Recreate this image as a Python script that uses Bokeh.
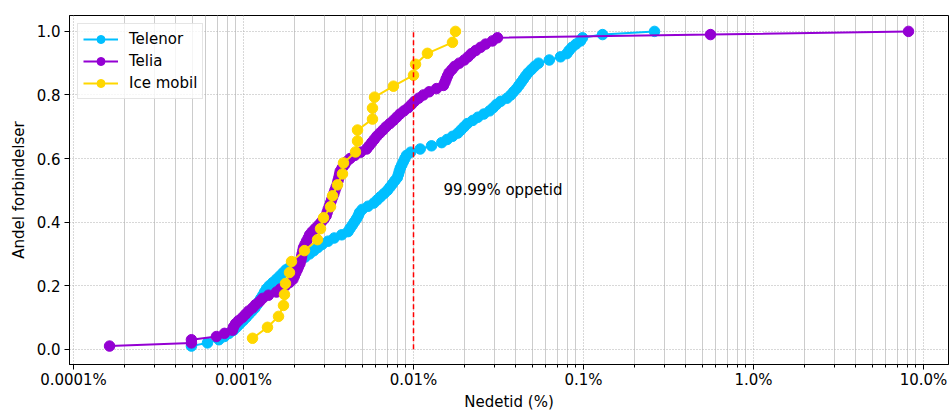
from bokeh.plotting import figure
from bokeh.models import FixedTicker, CustomJSTickFormatter, PrintfTickFormatter, Label, Range1d
from bokeh.embed import file_html
from bokeh.resources import INLINE

# ---------------- data ----------------
series_names = ["Telenor", "Telia", "Ice mobil"]
series_colors = ["#00BFFF", "#9400D3", "#FFD700"]

telenor_down = [
    0.000494, 0.000614, 0.000717, 0.000772, 0.000822, 0.000875, 0.000913, 0.000952, 0.000995, 0.001036,
    0.001077, 0.001122, 0.001167, 0.001201, 0.001232, 0.001264, 0.001299, 0.001331, 0.001366, 0.001418,
    0.001487, 0.001561, 0.001631, 0.001703, 0.001778, 0.001885, 0.002022, 0.002164, 0.002304, 0.002448,
    0.002591, 0.002736, 0.002904, 0.003145, 0.003416, 0.003781, 0.004119, 0.004232, 0.004360, 0.004486,
    0.004615, 0.004729, 0.004813, 0.004992, 0.005406, 0.005842, 0.006125, 0.006405, 0.006716, 0.007032,
    0.007274, 0.007514, 0.007762, 0.008029, 0.008150, 0.008250, 0.008363, 0.008534, 0.008710, 0.008901,
    0.009096, 0.009627, 0.01095, 0.01276, 0.01465, 0.01576, 0.01698, 0.01823, 0.01903, 0.01985,
    0.02073, 0.02233, 0.02392, 0.02591, 0.02803, 0.02943, 0.03073, 0.03258, 0.03553, 0.03736,
    0.03880, 0.04036, 0.04169, 0.04301, 0.04437, 0.04571, 0.04728, 0.04938, 0.05157, 0.05437,
    0.06293, 0.07323, 0.07978, 0.08230, 0.08559, 0.09035, 0.09603, 0.09866, 0.1294, 0.2616,
]

telia_down = [
    0.000163, 0.000494, 0.000494, 0.000693, 0.000773, 0.000861, 0.000873, 0.000897, 0.000935, 0.000986,
    0.001027, 0.001070, 0.001130, 0.001176, 0.001242, 0.001294, 0.001403, 0.001564, 0.001651, 0.001766,
    0.001864, 0.001954, 0.001990, 0.002028, 0.002070, 0.002109, 0.002149, 0.002176, 0.002193, 0.002213,
    0.002234, 0.002254, 0.002301, 0.002348, 0.002403, 0.002450, 0.002535, 0.002644, 0.002762, 0.002869,
    0.002979, 0.003062, 0.003104, 0.003148, 0.003197, 0.003250, 0.003298, 0.003348, 0.003404, 0.003451,
    0.003506, 0.003565, 0.003597, 0.003639, 0.003673, 0.003707, 0.003802, 0.003926, 0.004036, 0.004236,
    0.004519, 0.004887, 0.005297, 0.005483, 0.005675, 0.005875, 0.006081, 0.006339, 0.006622, 0.006902,
    0.007261, 0.007621, 0.007962, 0.008318, 0.008790, 0.009311, 0.009722, 0.01014, 0.01074, 0.01143,
    0.01236, 0.01365, 0.01500, 0.01531, 0.01556, 0.01585, 0.01618, 0.01683, 0.01746, 0.01858,
    0.01990, 0.02094, 0.02188, 0.02323, 0.02483, 0.02655, 0.02911, 0.03119, 0.5585, 8.16,
]

ice_down = [
    0.00113, 0.001384, 0.001607, 0.001719, 0.001742, 0.001766, 0.001864, 0.001916, 0.002284, 0.002725,
    0.002838, 0.002955, 0.003250, 0.003340, 0.003573, 0.003822, 0.003875, 0.004558, 0.004685, 0.004685,
    0.005738, 0.005738, 0.005899, 0.007621, 0.01, 0.01028, 0.01208, 0.01695, 0.01766,
]

share_100 = [
    0.01, 0.02, 0.03, 0.04, 0.05, 0.06, 0.07, 0.08, 0.09, 0.10,
    0.11, 0.12, 0.13, 0.14, 0.15, 0.16, 0.17, 0.18, 0.19, 0.20,
    0.21, 0.22, 0.23, 0.24, 0.25, 0.26, 0.27, 0.28, 0.29, 0.30,
    0.31, 0.32, 0.33, 0.34, 0.35, 0.36, 0.37, 0.38, 0.39, 0.40,
    0.41, 0.42, 0.43, 0.44, 0.45, 0.46, 0.47, 0.48, 0.49, 0.50,
    0.51, 0.52, 0.53, 0.54, 0.55, 0.56, 0.57, 0.58, 0.59, 0.60,
    0.61, 0.62, 0.63, 0.64, 0.65, 0.66, 0.67, 0.68, 0.69, 0.70,
    0.71, 0.72, 0.73, 0.74, 0.75, 0.76, 0.77, 0.78, 0.79, 0.80,
    0.81, 0.82, 0.83, 0.84, 0.85, 0.86, 0.87, 0.88, 0.89, 0.90,
    0.91, 0.92, 0.93, 0.94, 0.95, 0.96, 0.97, 0.98, 0.99, 1.00,
]
telenor_share = share_100
telia_share = share_100
ice_share = [
    0.0345, 0.0690, 0.1034, 0.1379, 0.1724, 0.2069, 0.2414, 0.2759, 0.3103, 0.3448,
    0.3793, 0.4138, 0.4483, 0.4828, 0.5172, 0.5517, 0.5862, 0.6207, 0.6552, 0.6897,
    0.7241, 0.7586, 0.7931, 0.8276, 0.8621, 0.8966, 0.9310, 0.9655, 1.0,
]

uptime_limit = 0.01          # 99.99 % oppetid
uptime_text = "99.99% oppetid"
x_tick_values = [0.0001, 0.001, 0.01, 0.1, 1.0, 10.0]
x_tick_labels = ["0.0001%", "0.001%", "0.01%", "0.1%", "1.0%", "10.0%"]
y_tick_values = [0.0, 0.2, 0.4, 0.6, 0.8, 1.0]
x_title = "Nedetid (%)"
y_title = "Andel forbindelser"

FONT = "DejaVu Sans"
FS = "15px"

# ---------------- figure ----------------
p = figure(
    x_axis_type="log",
    frame_width=879, frame_height=349,
    min_border_left=69, min_border_right=1, min_border_top=15, min_border_bottom=46,
    x_range=Range1d(10 ** -4.0235, 10 ** 1.147),
    y_range=Range1d(-0.048, 1.05),
    output_backend="svg", toolbar_location=None,
)
p.background_fill_color = "white"
p.border_fill_color = "white"
p.outline_line_color = "black"
p.outline_line_width = 1

minor = []
for d in x_tick_values:
    for m in range(2, 10):
        minor.append(d * m)
p.xaxis.ticker = FixedTicker(ticks=x_tick_values, minor_ticks=minor)
p.xaxis.formatter = CustomJSTickFormatter(
    args=dict(labels=x_tick_labels),
    code="const i = Math.round(Math.log10(tick)) + 4; return labels[i];",
)
p.yaxis.ticker = FixedTicker(ticks=y_tick_values)
p.yaxis.formatter = PrintfTickFormatter(format="%.1f")

for ax in (p.xaxis, p.yaxis):
    ax.major_label_text_font = FONT
    ax.major_label_text_font_size = FS
    ax.major_label_text_color = "black"
    ax.axis_label_text_font = FONT
    ax.axis_label_text_font_size = FS
    ax.axis_label_text_font_style = "normal"
    ax.axis_label_text_color = "black"
    ax.axis_line_color = "black"
    ax.major_tick_line_color = "black"
    ax.minor_tick_line_color = "black"
    ax.major_tick_out = 5
    ax.major_tick_in = 0
    ax.minor_tick_out = 3
    ax.minor_tick_in = 0

p.xaxis.major_label_standoff = 1
p.yaxis.major_label_standoff = 4
p.xaxis.axis_label = x_title
p.yaxis.axis_label = y_title
p.xaxis.axis_label_standoff = 1
p.yaxis.axis_label_standoff = 6

p.xgrid.grid_line_color = "#b0b0b0"
p.xgrid.grid_line_dash = "1 2"
p.xgrid.grid_line_width = 1
p.xgrid.minor_grid_line_color = "#cccccc"
p.xgrid.minor_grid_line_width = 1
p.ygrid.grid_line_color = "#b0b0b0"
p.ygrid.grid_line_dash = "1 2"
p.ygrid.grid_line_width = 1

data = [
    (telenor_down, telenor_share),
    (telia_down, telia_share),
    (ice_down, ice_share),
]
for (xs, ys), name, col in zip(data, series_names, series_colors):
    p.line(xs, ys, line_color=col, line_width=2, legend_label=name)
    p.scatter(xs, ys, size=10.5, fill_color=col, line_color=col, legend_label=name)

p.segment(x0=[uptime_limit], y0=[0.0], x1=[uptime_limit], y1=[1.0],
          line_color="#ff0000", line_dash="5 3", line_width=1.5)

p.add_layout(Label(x=0.015, y=0.5, text=uptime_text, text_baseline="middle",
                   text_font=FONT, text_font_size=FS, text_color="black"))

lg = p.legend[0]
lg.location = "top_left"
lg.margin = 8
lg.padding = 5
lg.spacing = 2
lg.glyph_width = 35
lg.glyph_height = 20
lg.label_height = 20
lg.label_standoff = 11
lg.label_text_font = FONT
lg.label_text_font_size = FS
lg.label_text_color = "black"
lg.border_line_color = "#cccccc"
lg.border_line_width = 1
lg.background_fill_alpha = 0.8

open("out.html", "w").write(file_html(p, INLINE))
